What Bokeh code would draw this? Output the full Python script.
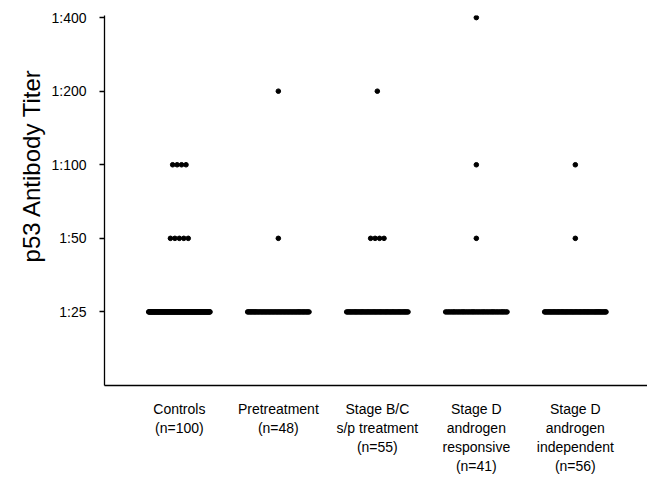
import numpy as np
from bokeh.plotting import figure
from bokeh.models import Range1d, FixedTicker, Title, ColumnDataSource
from bokeh.embed import file_html
from bokeh.resources import INLINE

# ---- data ----
group_labels = [
    "Controls\n(n=100)",
    "Pretreatment\n(n=48)",
    "Stage B/C\ns/p treatment\n(n=55)",
    "Stage D\nandrogen\nresponsive\n(n=41)",
    "Stage D\nandrogen\nindependent\n(n=56)",
]
titers = [25, 50, 100, 200, 400]
titer_labels = ["1:25", "1:50", "1:100", "1:200", "1:400"]
# number of patients at each titer (1:25, 1:50, 1:100, 1:200, 1:400)
controls = [91, 5, 4, 0, 0]
pretreatment = [46, 1, 0, 1, 0]
stage_bc = [50, 4, 0, 1, 0]
stage_d_responsive = [38, 1, 1, 0, 1]
stage_d_independent = [54, 1, 1, 0, 0]
counts = [controls, pretreatment, stage_bc, stage_d_responsive, stage_d_independent]

# ---- build dot positions (dot-plot layout) ----
xs, ys = [], []
for gi, grp in enumerate(counts):
    center = gi + 1
    for li, n in enumerate(grp):
        if n == 0:
            continue
        if n <= 5:
            offs = (np.arange(n) - (n - 1) / 2) * 0.045
        else:
            offs = np.linspace(-0.31, 0.31, n)
        xs.extend(center + offs)
        ys.extend([titers[li]] * n)
src = ColumnDataSource(dict(x=xs, y=ys))

X0, X1 = 0.244, 5.729
Y0, Y1 = 12.5, 408
p = figure(width=647, height=479, output_backend="svg", toolbar_location=None,
           y_axis_type="log",
           x_range=Range1d(X0, X1), y_range=Range1d(Y0, Y1),
           min_border_left=104, min_border_right=0, min_border_top=15,
           min_border_bottom=94)
p.outline_line_color = None
p.xgrid.visible = False
p.ygrid.visible = False
p.background_fill_color = "white"
p.border_fill_color = "white"

p.scatter("x", "y", source=src, size=4.6, color="black", marker="circle")

FONT = "Liberation Sans"

# y axis
p.yaxis.ticker = FixedTicker(ticks=titers)
p.yaxis.major_label_overrides = {t: l for t, l in zip(titers, titer_labels)}
p.yaxis.minor_tick_line_color = None
p.yaxis.major_tick_in = 0
p.yaxis.major_tick_out = 5
p.yaxis.major_label_standoff = 13
p.yaxis.axis_line_color = "black"
p.yaxis.axis_line_width = 1.3
p.yaxis.major_tick_line_width = 1.3
p.yaxis.major_label_text_font = FONT
p.yaxis.major_label_text_font_size = "14px"
p.yaxis.major_label_text_color = "black"

# x axis
p.xaxis.ticker = FixedTicker(ticks=[1, 2, 3, 4, 5])
p.xaxis.major_label_overrides = {i + 1: l for i, l in enumerate(group_labels)}
p.xaxis.major_tick_line_color = None
p.xaxis.minor_tick_line_color = None
p.xaxis.major_label_standoff = 9
p.xaxis.axis_line_color = "black"
p.xaxis.axis_line_width = 1.3
p.xaxis.major_label_text_font = FONT
p.xaxis.major_label_text_font_size = "14px"
p.xaxis.major_label_text_color = "black"
p.xaxis.major_label_text_line_height = 1.2

# y axis title, as a side title so its vertical position can be set
p.add_layout(Title(text="p53 Antibody Titer", align="right", offset=53,
                   text_font=FONT, text_font_size="24px",
                   text_font_style="normal", text_color="black",
                   standoff=8), "left")

open("out.html", "w").write(file_html(p, INLINE))
